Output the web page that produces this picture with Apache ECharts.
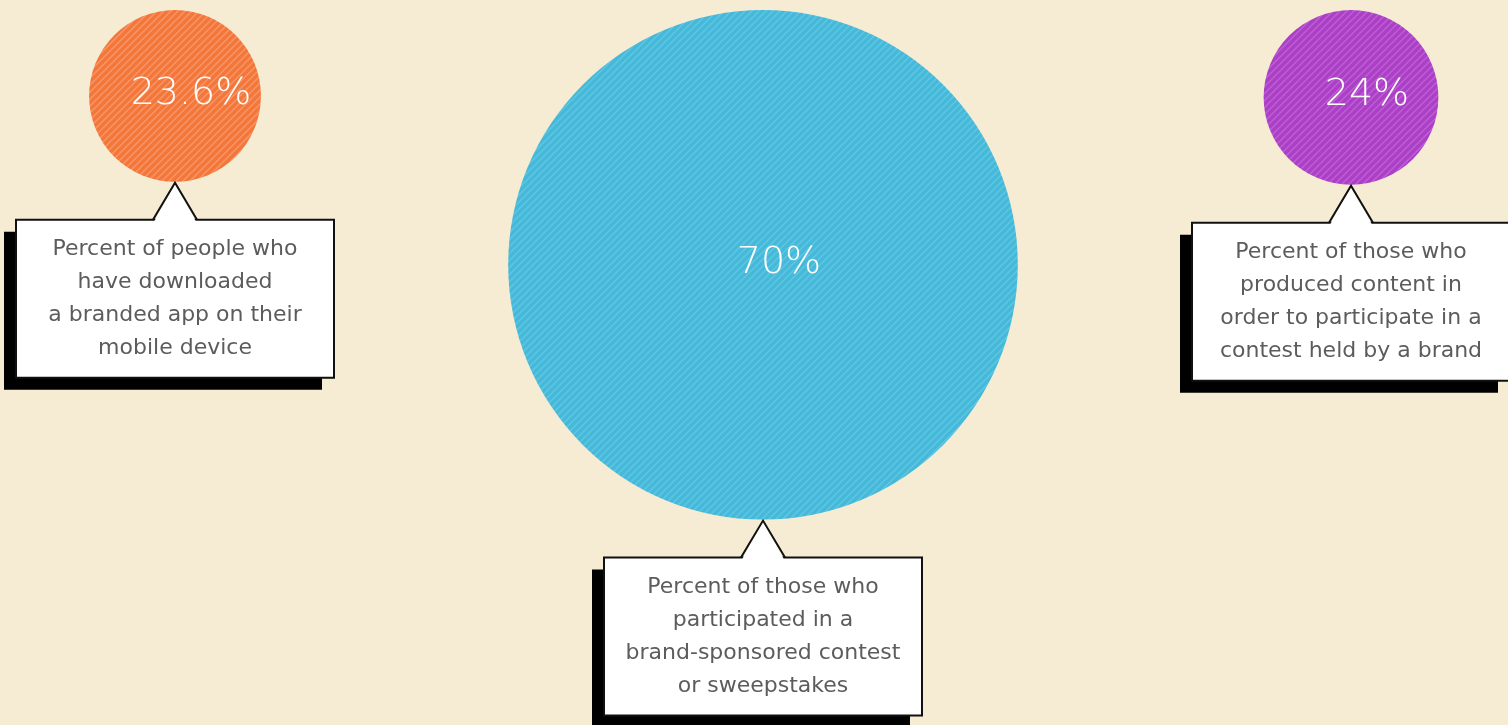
<!DOCTYPE html>
<html>
<head>
<meta charset="utf-8">
<script src="https://cdn.jsdelivr.net/npm/echarts@6/dist/echarts.min.js"></script>
<style>
html,body{margin:0;padding:0;background:#f6ebd3;}
#chart{width:1508px;height:725px;}
</style>
</head>
<body>
<div id="chart"></div>
<script>
// three survey figures, circle radius grows with the percentage
const categories = ['branded app', 'contest', 'content'];
const values = [23.6, 70, 24];
const valueLabels = ['23.6%', '70%', '24%'];
const captions = [
    ['Percent of people who', 'have downloaded', 'a branded app on their', 'mobile device'],
    ['Percent of those who', 'participated in a', 'brand-sponsored contest', 'or sweepstakes'],
    ['Percent of those who', 'produced content in', 'order to participate in a', 'contest held by a brand']
];

const baseColors = ['#f4773a', '#45b9d9', '#ab40c6'];
const stripeColors = ['#f8956a', '#62c6e2', '#bf5fd6'];

// diagonal stripe fill like the original
function stripes(base, stripe){
    const c = document.createElement('canvas');
    c.width = 7; c.height = 7;
    const ctx = c.getContext('2d');
    ctx.fillStyle = base;
    ctx.fillRect(0, 0, 7, 7);
    ctx.strokeStyle = stripe;
    ctx.lineWidth = 1.4;
    ctx.beginPath();
    ctx.moveTo(-1, 8); ctx.lineTo(8, -1);
    ctx.moveTo(-4.5, 4.5); ctx.lineTo(4.5, -4.5);
    ctx.moveTo(2.5, 11.5); ctx.lineTo(11.5, 2.5);
    ctx.stroke();
    return {image: c, repeat: 'repeat'};
}
const fills = baseColors.map((b, i) => stripes(b, stripeColors[i]));

const PX = 3.64;      // pixels per percentage point (radius)
const TOP = 10;
const H = 725 - TOP;

const chart = echarts.init(document.getElementById('chart'));
chart.setOption({
    backgroundColor: '#f6ebd3',
    animation: false,
    grid: {left: 175, right: 157, top: TOP, bottom: 0},
    xAxis: {type: 'category', data: categories, boundaryGap: false, show: false},
    yAxis: {type: 'value', inverse: true, min: 0, max: H / PX, show: false},
    series: [{
        type: 'custom',
        data: values.map((v, i) => [i, v]),
        encode: {x: 0, y: 1},
        renderItem: function(params, api){
            const i = params.dataIndex;
            const v = api.value(1);
            const p = api.coord([i, v]);
            const r = api.size([0, v])[1];
            const cx = p[0], cy = p[1];
            const bw = 318, bh = 158;
            const bx = cx - bw / 2;
            const by = cy + r + 38;
            const tipY = cy + r + 1;
            const lines = captions[i];
            const lh = 33;
            const children = [
                {type: 'circle', shape: {cx: cx, cy: cy, r: r}, style: {fill: fills[i]}},
                {type: 'text', style: {
                    text: valueLabels[i], x: cx + 16, y: cy - 2,
                    align: 'center', verticalAlign: 'middle',
                    fill: '#ffffff', font: '300 38px "DejaVu Sans"'
                }},
                {type: 'rect', shape: {x: bx - 12, y: by + 12, width: bw, height: bh}, style: {fill: '#000000'}},
                {type: 'rect', shape: {x: bx, y: by, width: bw, height: bh},
                    style: {fill: '#ffffff', stroke: '#111111', lineWidth: 2}},
                {type: 'polygon', shape: {points: [[cx - 21, by + 2], [cx, tipY], [cx + 21, by + 2]]},
                    style: {fill: '#ffffff'}},
                {type: 'polyline', shape: {points: [[cx - 22, by], [cx, tipY], [cx + 22, by]]},
                    style: {stroke: '#111111', lineWidth: 2, fill: null}}
            ];
            const y0 = by + bh / 2 - (lines.length - 1) * lh / 2;
            lines.forEach(function(t, k){
                children.push({type: 'text', style: {
                    text: t, x: cx, y: y0 + k * lh,
                    align: 'center', verticalAlign: 'middle',
                    fill: '#5c5c5c', font: 'normal 22px "DejaVu Sans"'
                }});
            });
            return {type: 'group', children: children};
        }
    }]
});
</script>
</body>
</html>
